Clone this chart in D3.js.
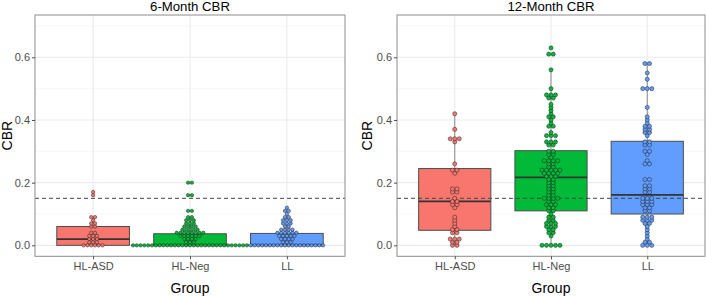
<!DOCTYPE html>
<html><head><meta charset="utf-8">
<script src="https://cdn.jsdelivr.net/npm/d3@7"></script>
<style>body{margin:0;background:#fff}svg{display:block}text{font-family:Arial,"Liberation Sans",sans-serif}</style>
</head><body><svg id="c" width="707" height="297"></svg>
<script>
const groups = ["HL-ASD", "HL-Neg", "LL"];
const colors = ["#F8766D", "#00BA38", "#619CFF"];
const panelTitles = ["6-Month CBR", "12-Month CBR"];
const yTicks = [0, 0.2, 0.4, 0.6];
const yMinor = [0.1, 0.3, 0.5, 0.7];
const threshold = 0.15;

// dots: [value, count]
const m6_HLASD = [[0,6],[0.01,3],[0.02,3],[0.03,3],[0.04,2],[0.06,2],[0.07,2],[0.08,1],[0.09,2],[0.16,1],[0.17,1]];
const m6_HLNeg = [[0,31],[0.01,3],[0.02,4],[0.03,6],[0.04,8],[0.05,5],[0.06,4],[0.07,3],[0.08,3],[0.09,2],[0.11,2],[0.16,2],[0.20,2]];
const m6_LL = [[0,20],[0.01,3],[0.02,4],[0.03,5],[0.04,6],[0.05,4],[0.06,2],[0.07,3],[0.08,3],[0.09,2],[0.10,1],[0.11,2],[0.12,1]];
const m12_HLASD = [[0,2],[0.01,2],[0.02,3],[0.04,2],[0.05,2],[0.06,1],[0.07,1],[0.08,1],[0.09,1],[0.12,1],[0.13,2],[0.14,2],[0.15,1],[0.17,2],[0.18,2],[0.23,1],[0.24,2],[0.26,1],[0.33,1],[0.34,3],[0.37,1],[0.42,1]];
const m12_HLNeg = [[0,5],[0.03,1],[0.04,2],[0.05,2],[0.06,3],[0.07,3],[0.08,2],[0.09,2],[0.10,1],[0.11,2],[0.12,2],[0.13,3],[0.14,2],[0.15,4],[0.16,2],[0.17,2],[0.18,2],[0.19,2],[0.20,2],[0.21,2],[0.22,3],[0.23,4],[0.24,5],[0.25,2],[0.26,2],[0.27,4],[0.28,1],[0.29,2],[0.30,2],[0.32,2],[0.33,3],[0.35,3],[0.36,1],[0.38,2],[0.39,1],[0.40,1],[0.41,2],[0.42,1],[0.43,1],[0.44,1],[0.45,1],[0.47,2],[0.48,3],[0.50,1],[0.56,1],[0.61,2],[0.63,1]];
const m12_LL = [[0,3],[0.01,2],[0.02,1],[0.03,1],[0.04,1],[0.05,1],[0.06,1],[0.07,2],[0.08,3],[0.09,3],[0.11,2],[0.12,2],[0.13,3],[0.14,3],[0.15,3],[0.17,2],[0.18,2],[0.19,2],[0.21,2],[0.26,2],[0.27,1],[0.29,1],[0.30,2],[0.32,2],[0.33,2],[0.35,1],[0.36,2],[0.37,2],[0.38,2],[0.39,1],[0.40,1],[0.41,1],[0.44,1],[0.50,3],[0.53,1],[0.55,1],[0.58,2]];

// box stats: [q1, median, q3, whiskerLow, whiskerHigh]
const m6_box = [[0,0.02,0.06,0,0.09],[0,0,0.037,0,0.09],[0,0,0.038,0,0.09]];
const m12_box = [[0.048,0.14,0.245,0,0.42],[0.11,0.217,0.302,0,0.56],[0.10,0.161,0.332,0,0.58]];

const panels = [
  {title: panelTitles[0], x0: 35, x1: 345, dots: [m6_HLASD, m6_HLNeg, m6_LL], box: m6_box, d: 3.8, ylabX: 7.5},
  {title: panelTitles[1], x0: 397, x1: 705, dots: [m12_HLASD, m12_HLNeg, m12_LL], box: m12_box, d: 4.5, ylabX: 367}
];
const pTop = 15, pBottom = 256.3;
const svg = d3.select("#c");

panels.forEach(p => {
  const g = svg.append("g");
  const x = d3.scalePoint().domain(groups).range([p.x0, p.x1]).padding(0.6);
  const y = d3.scaleLinear().domain([-0.035, 0.735]).range([pBottom, pTop]);
  const step = x.step();
  g.selectAll(".mn").data(yMinor).join("line").attr("x1", p.x0).attr("x2", p.x1)
    .attr("y1", d => y(d)).attr("y2", d => y(d)).attr("stroke", "#F2F2F2").attr("stroke-width", 0.6);
  g.selectAll(".mj").data(yTicks).join("line").attr("x1", p.x0).attr("x2", p.x1)
    .attr("y1", d => y(d)).attr("y2", d => y(d)).attr("stroke", "#EBEBEB").attr("stroke-width", 1.1);
  g.selectAll(".vg").data(groups).join("line").attr("x1", d => x(d)).attr("x2", d => x(d))
    .attr("y1", pTop).attr("y2", pBottom).attr("stroke", "#EBEBEB").attr("stroke-width", 1.1);
  groups.forEach((gr, i) => {
    const b = p.box[i];
    g.append("line").attr("x1", x(gr)).attr("x2", x(gr)).attr("y1", y(b[4])).attr("y2", y(b[2]))
      .attr("stroke", "#8a8a8a").attr("stroke-width", 1);
    g.append("line").attr("x1", x(gr)).attr("x2", x(gr)).attr("y1", y(b[0])).attr("y2", y(b[3]))
      .attr("stroke", "#8a8a8a").attr("stroke-width", 1);
  });
  groups.forEach((gr, i) => {
    const b = p.box[i];
    const w = step * 0.75;
    g.append("rect").attr("x", x(gr) - w / 2).attr("width", w).attr("y", y(b[2]))
      .attr("height", Math.max(0, y(b[0]) - y(b[2]))).attr("fill", colors[i])
      .attr("stroke", "#4d4d4d").attr("stroke-width", 1);
    g.append("line").attr("x1", x(gr) - w / 2).attr("x2", x(gr) + w / 2)
      .attr("y1", y(b[1])).attr("y2", y(b[1])).attr("stroke", "#333").attr("stroke-width", 1.8);
  });
  g.append("line").attr("x1", p.x0).attr("x2", p.x1).attr("y1", y(threshold)).attr("y2", y(threshold))
    .attr("stroke", "#444").attr("stroke-width", 1).attr("stroke-dasharray", "4,3");
  groups.forEach((gr, i) => {
    const pts = [];
    p.dots[i].forEach(([v, n]) => {
      for (let j = 0; j < n; j++) pts.push({v, off: (j - (n - 1) / 2) * p.d});
    });
    g.selectAll(null).data(pts).join("circle")
      .attr("cx", d => x(gr) + d.off).attr("cy", d => y(d.v)).attr("r", p.d / 2 - 0.2)
      .attr("fill", colors[i]).attr("stroke", "#222").attr("stroke-width", 0.5);
  });
  g.append("rect").attr("x", p.x0).attr("y", pTop).attr("width", p.x1 - p.x0).attr("height", pBottom - pTop)
    .attr("fill", "none").attr("stroke", "#8c8c8c").attr("stroke-width", 1);
  const ya = g.append("g").attr("transform", `translate(${p.x0},0)`)
    .call(d3.axisLeft(y).tickValues(yTicks).tickFormat(d3.format(".1f")).tickSize(3).tickPadding(2));
  const xa = g.append("g").attr("transform", `translate(0,${pBottom})`)
    .call(d3.axisBottom(x).tickSize(3).tickPadding(3));
  [ya, xa].forEach(a => {
    a.select(".domain").remove();
    a.selectAll(".tick line").attr("stroke", "#4d4d4d");
    a.selectAll(".tick text").attr("fill", "#4d4d4d").style("font-size", "11px").style("font-family", "Arial, 'Liberation Sans', sans-serif");
  });
  const cx = (p.x0 + p.x1) / 2;
  g.append("text").attr("x", cx).attr("y", 11).attr("text-anchor", "middle")
    .style("font-size", "13.2px").attr("fill", "#000").text(p.title);
  g.append("text").attr("x", cx).attr("y", 293).attr("text-anchor", "middle")
    .style("font-size", "14px").attr("fill", "#000").text("Group");
  g.append("text").attr("transform", `translate(${p.ylabX},${(pTop + pBottom) / 2}) rotate(-90)`)
    .attr("text-anchor", "middle").attr("dy", "0.35em").style("font-size", "14px").attr("fill", "#000").text("CBR");
});
</script></body></html>
